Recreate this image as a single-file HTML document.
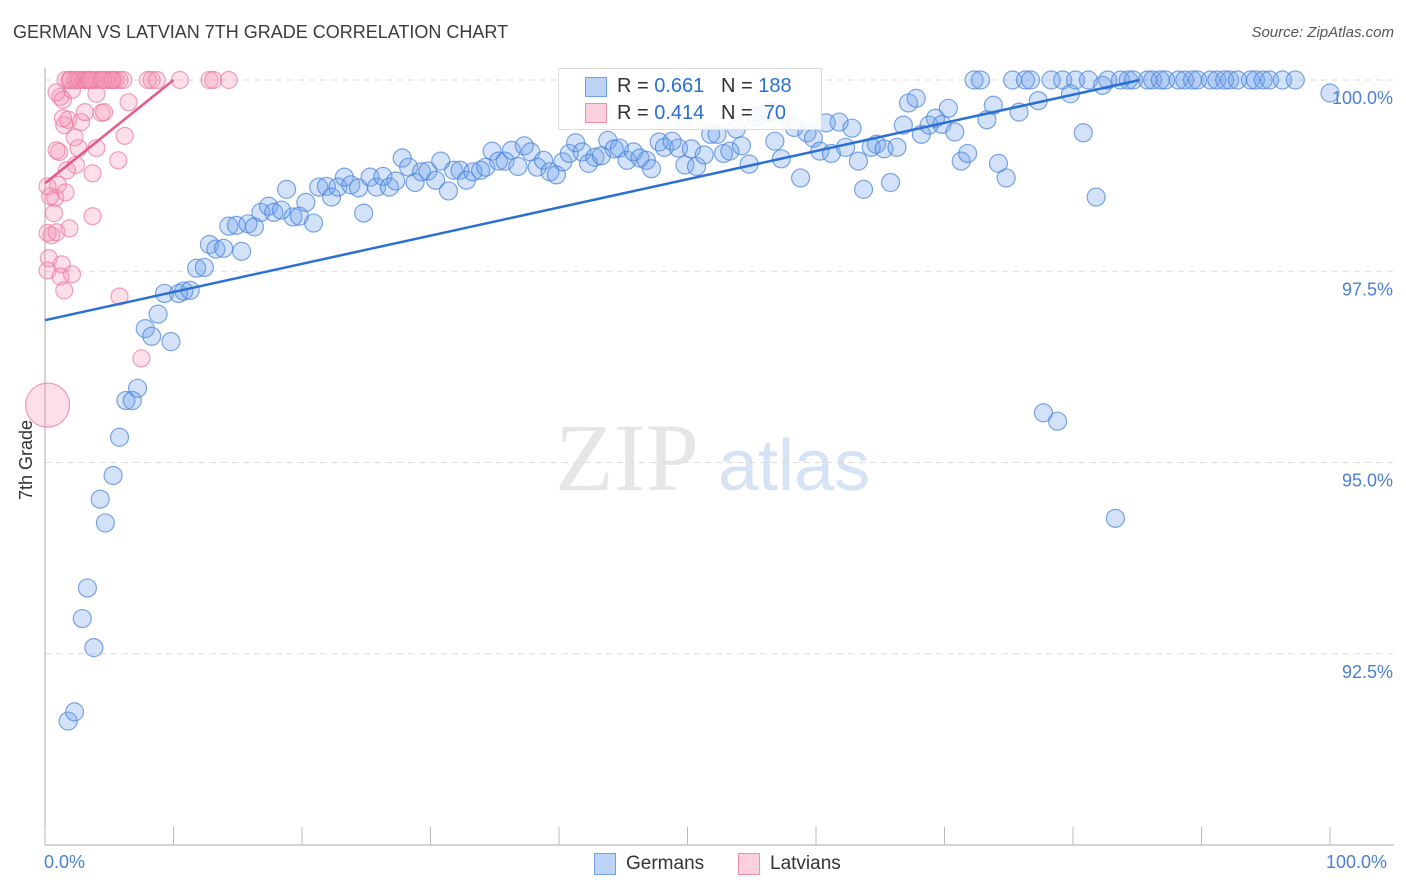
<!DOCTYPE html>
<html><head><meta charset="utf-8"><style>
body{margin:0;background:#fff;font-family:"Liberation Sans",sans-serif}
#wrap{position:relative;width:1406px;height:892px}
.t{position:absolute;white-space:nowrap}
</style></head><body>
<div id="wrap">
<div class="t" style="left:13px;top:22px;font-size:18px;color:#3b3b3b">GERMAN VS LATVIAN 7TH GRADE CORRELATION CHART</div>
<div class="t" style="right:12px;top:24px;font-size:15px;color:#555;font-style:italic">Source: ZipAtlas.com</div>
<svg id="svg" width="1406" height="892" style="position:absolute;left:0;top:0"></svg>
</div>
<script>
const blueX=[1.8,2.3,3.8,2.9,3.3,4.7,4.3,5.3,5.8,6.3,6.8,7.2,7.8,8.3,8.8,9.8,9.3,10.4,10.8,11.3,11.8,12.4,12.8,13.3,13.9,14.3,14.9,15.3,15.8,16.3,16.8,17.4,17.8,18.4,18.8,19.3,19.8,20.3,20.9,21.3,21.9,22.3,22.8,23.3,23.8,24.4,24.8,25.3,25.8,26.3,26.8,27.3,27.8,28.3,28.8,29.3,29.8,30.4,30.8,31.4,31.8,32.3,32.8,33.3,33.9,34.3,34.8,35.3,35.8,36.3,36.8,37.3,37.8,38.3,38.8,39.3,39.8,40.3,40.8,41.3,41.8,42.3,42.8,43.3,43.8,44.3,44.7,45.3,45.8,46.3,46.8,47.2,47.8,48.2,48.8,49.3,49.8,50.3,50.7,51.3,51.8,52.3,52.8,53.3,53.8,54.2,54.8,55.3,55.8,56.3,56.8,57.3,57.7,58.3,58.8,59.3,59.8,60.3,60.8,61.2,61.8,62.3,62.8,63.3,63.7,64.3,64.7,65.3,65.8,66.3,66.8,67.2,67.8,68.2,68.8,69.3,69.8,70.3,70.8,71.3,71.8,72.3,72.8,73.3,73.8,74.2,74.8,75.3,75.8,76.3,76.7,77.3,77.7,78.3,78.8,79.2,79.8,80.2,80.8,81.2,81.8,82.3,82.7,83.3,83.7,84.3,84.7,85.8,86.2,86.8,87.2,88.2,88.7,89.3,89.7,90.7,91.2,91.8,92.2,92.8,93.8,94.2,94.8,95.3,96.3,97.3,100];
const blueY=[91.62,91.74,92.58,92.96,93.36,94.21,94.52,94.83,95.33,95.81,95.81,95.97,96.75,96.65,96.94,96.58,97.21,97.21,97.24,97.25,97.54,97.55,97.85,97.79,97.80,98.09,98.10,97.76,98.12,98.08,98.27,98.35,98.27,98.30,98.57,98.21,98.22,98.40,98.13,98.60,98.61,98.47,98.60,98.73,98.63,98.59,98.26,98.73,98.60,98.74,98.60,98.68,98.98,98.86,98.66,98.80,98.81,98.69,98.94,98.55,98.82,98.82,98.69,98.80,98.82,98.86,99.07,98.94,98.94,99.08,98.87,99.14,99.06,98.86,98.95,98.80,98.76,98.93,99.04,99.18,99.06,98.91,98.99,99.01,99.21,99.10,99.11,98.95,99.06,98.98,98.95,98.84,99.19,99.12,99.20,99.11,98.89,99.10,98.87,99.02,99.29,99.29,99.04,99.07,99.36,99.14,98.90,99.52,99.55,99.58,99.20,98.97,99.52,99.38,98.72,99.31,99.24,99.07,99.44,99.04,99.45,99.12,99.37,98.94,98.57,99.12,99.16,99.10,98.66,99.12,99.41,99.70,99.76,99.29,99.41,99.50,99.42,99.63,99.32,98.94,99.04,100,100,99.48,99.67,98.91,98.72,100,99.58,100,100,99.73,95.65,100,95.54,100,99.82,100,99.31,100,98.47,99.93,100,94.27,100,100,100,100,100,100,100,100,100,100,100,100,100,100,100,100,100,100,100,100,100,100,99.83];
const pinkX=[0.2,0.3,0.5,0.2,0.9,1.3,1.2,1.9,1.5,0.7,0.8,0.4,1.0,1.6,0.2,3.7,2.1,5.8,7.5,1.1,0.9,2.6,4.0,2.4,3.7,1.7,5.7,2.3,6.2,1.5,1.8,2.8,4.4,4.6,1.4,1.2,1.4,3.1,6.5,4.0,2.1,0.9,1.6,1.9,2.3,2.5,2.7,3.0,3.2,3.4,3.7,4.0,4.3,4.7,5.0,5.3,5.5,5.8,6.1,8.0,8.3,8.7,10.5,12.8,13.1,14.3,2.0,3.5,4.5,5.2];
const pinkY=[97.51,97.67,97.97,98.0,98.01,97.59,97.43,98.06,97.25,98.26,98.46,98.48,98.63,98.53,98.61,98.22,97.46,97.17,96.36,99.06,99.08,99.11,99.11,98.89,98.78,98.82,98.95,99.25,99.27,99.41,99.48,99.45,99.57,99.58,99.50,99.78,99.74,99.58,99.71,99.82,99.87,99.84,100,100,100,100,100,100,100,100,100,100,100,100,100,100,100,100,100,100,100,100,100,100,100,100,100,100,100,100];
const bigPink={x:0.2,y:95.75};
const yTicks=[100,97.5,95,92.5];
const yTickLabels=["100.0%","97.5%","95.0%","92.5%"];
const blueTrend=[[0,96.86],[85.2,100]];
const pinkTrend=[[0,98.65],[10,100]];

const NS="http://www.w3.org/2000/svg",svg=document.getElementById('svg');
const X0=45,X1=1330,Ytop=80,Ybot=845,YMIN=90,YMAX=100;
const xs=v=>X0+(X1-X0)*v/100;
const ys=v=>Ybot-(Ybot-Ytop)*(v-YMIN)/(YMAX-YMIN);
function el(t,a){const e=document.createElementNS(NS,t);for(const k in a)e.setAttribute(k,a[k]);svg.appendChild(e);return e;}
// watermark
let w=el('text',{x:555,y:490,'font-size':96,'font-family':'Liberation Serif,serif',fill:'#e6e6e6'});w.textContent='ZIP';


let w2=el('text',{x:718,y:490,'font-size':72,'font-family':'Liberation Sans,sans-serif',fill:'#d6e3f5'});w2.textContent='atlas';


// grid
yTicks.forEach((v,i)=>{
 const g=el('line',{x1:X0,x2:1394,y1:ys(v),y2:ys(v),stroke:'#dcdcdc','stroke-dasharray':'6,5'});
 
 
 const t=el('text',{x:1393,y:ys(v)+24,'text-anchor':'end','font-size':18,fill:'#4a7fd6'});t.textContent=yTickLabels[i];
 
 
});
// axes
let ax=el('line',{x1:X0,x2:X0,y1:68,y2:Ybot,stroke:'#aaa'});


let ax2=el('line',{x1:X0,x2:1394,y1:Ybot,y2:Ybot,stroke:'#aaa'});


for(let i=0;i<=10;i++){const tk=el('line',{x1:xs(i*10),x2:xs(i*10),y1:Ybot,y2:Ybot-18,stroke:'#bbb'});
 
 }
// points
function dot(x,y,r,fill,stroke,name){const c=el('circle',{cx:xs(x),cy:ys(y),r:r,fill:fill,stroke:stroke,'stroke-width':1.2});
 
 }
pinkX.forEach((x,i)=>dot(x,pinkY[i],8.5,'rgba(244,150,180,0.3)','rgba(236,120,160,0.7)','latvian-point'));
dot(bigPink.x,bigPink.y,22,'rgba(244,150,180,0.3)','rgba(236,120,160,0.7)','latvian-point');
blueX.forEach((x,i)=>dot(x,blueY[i],9,'rgba(110,160,235,0.3)','rgba(70,130,220,0.7)','german-point'));
let bl=el('line',{x1:xs(blueTrend[0][0]),y1:ys(blueTrend[0][1]),x2:xs(blueTrend[1][0]),y2:ys(blueTrend[1][1]),stroke:'#2a6fd6','stroke-width':2.5});


let pl=el('line',{x1:xs(pinkTrend[0][0]),y1:ys(pinkTrend[0][1]),x2:xs(pinkTrend[1][0]),y2:ys(pinkTrend[1][1]),stroke:'#e8588a','stroke-width':2.5});


</script>
<div class="t" style="left:44px;top:852px;font-size:18px;color:#4a7fd6">0.0%</div>
<div class="t" style="left:1326px;top:852px;font-size:18px;color:#4a7fd6">100.0%</div>
<div class="t" style="left:16px;top:500px;font-size:18px;color:#333;transform:rotate(-90deg);transform-origin:0 0">7th Grade</div>
<div style="position:absolute;left:558px;top:68px;width:262px;height:60px;border:1px solid #ddd;background:rgba(255,255,255,0.9)">
 <div style="position:absolute;left:26px;top:8px;width:20px;height:18px;background:rgba(110,160,235,0.45);border:1px solid #6fa0e8"></div>
 <div class="t" style="left:58px;top:6px;font-size:20px;color:#333">R = <span style="color:#2a6fd6">0.661</span>&nbsp;&nbsp;&nbsp;N = <span style="color:#2a6fd6">188</span></div>
 <div style="position:absolute;left:26px;top:34px;width:20px;height:18px;background:rgba(244,150,180,0.45);border:1px solid #ef8fb0"></div>
 <div class="t" style="left:58px;top:33px;font-size:20px;color:#333">R = <span style="color:#2a6fd6">0.414</span>&nbsp;&nbsp;&nbsp;N = <span style="color:#2a6fd6">&nbsp;70</span></div>
</div>
<div style="position:absolute;left:594px;top:853px;width:20px;height:20px;background:rgba(110,160,235,0.45);border:1px solid #6fa0e8"></div>
<div class="t" style="left:626px;top:853px;font-size:19px;color:#333">Germans</div>
<div style="position:absolute;left:738px;top:853px;width:20px;height:20px;background:rgba(244,150,180,0.45);border:1px solid #ef8fb0"></div>
<div class="t" style="left:770px;top:853px;font-size:19px;color:#333">Latvians</div>
</body></html>
